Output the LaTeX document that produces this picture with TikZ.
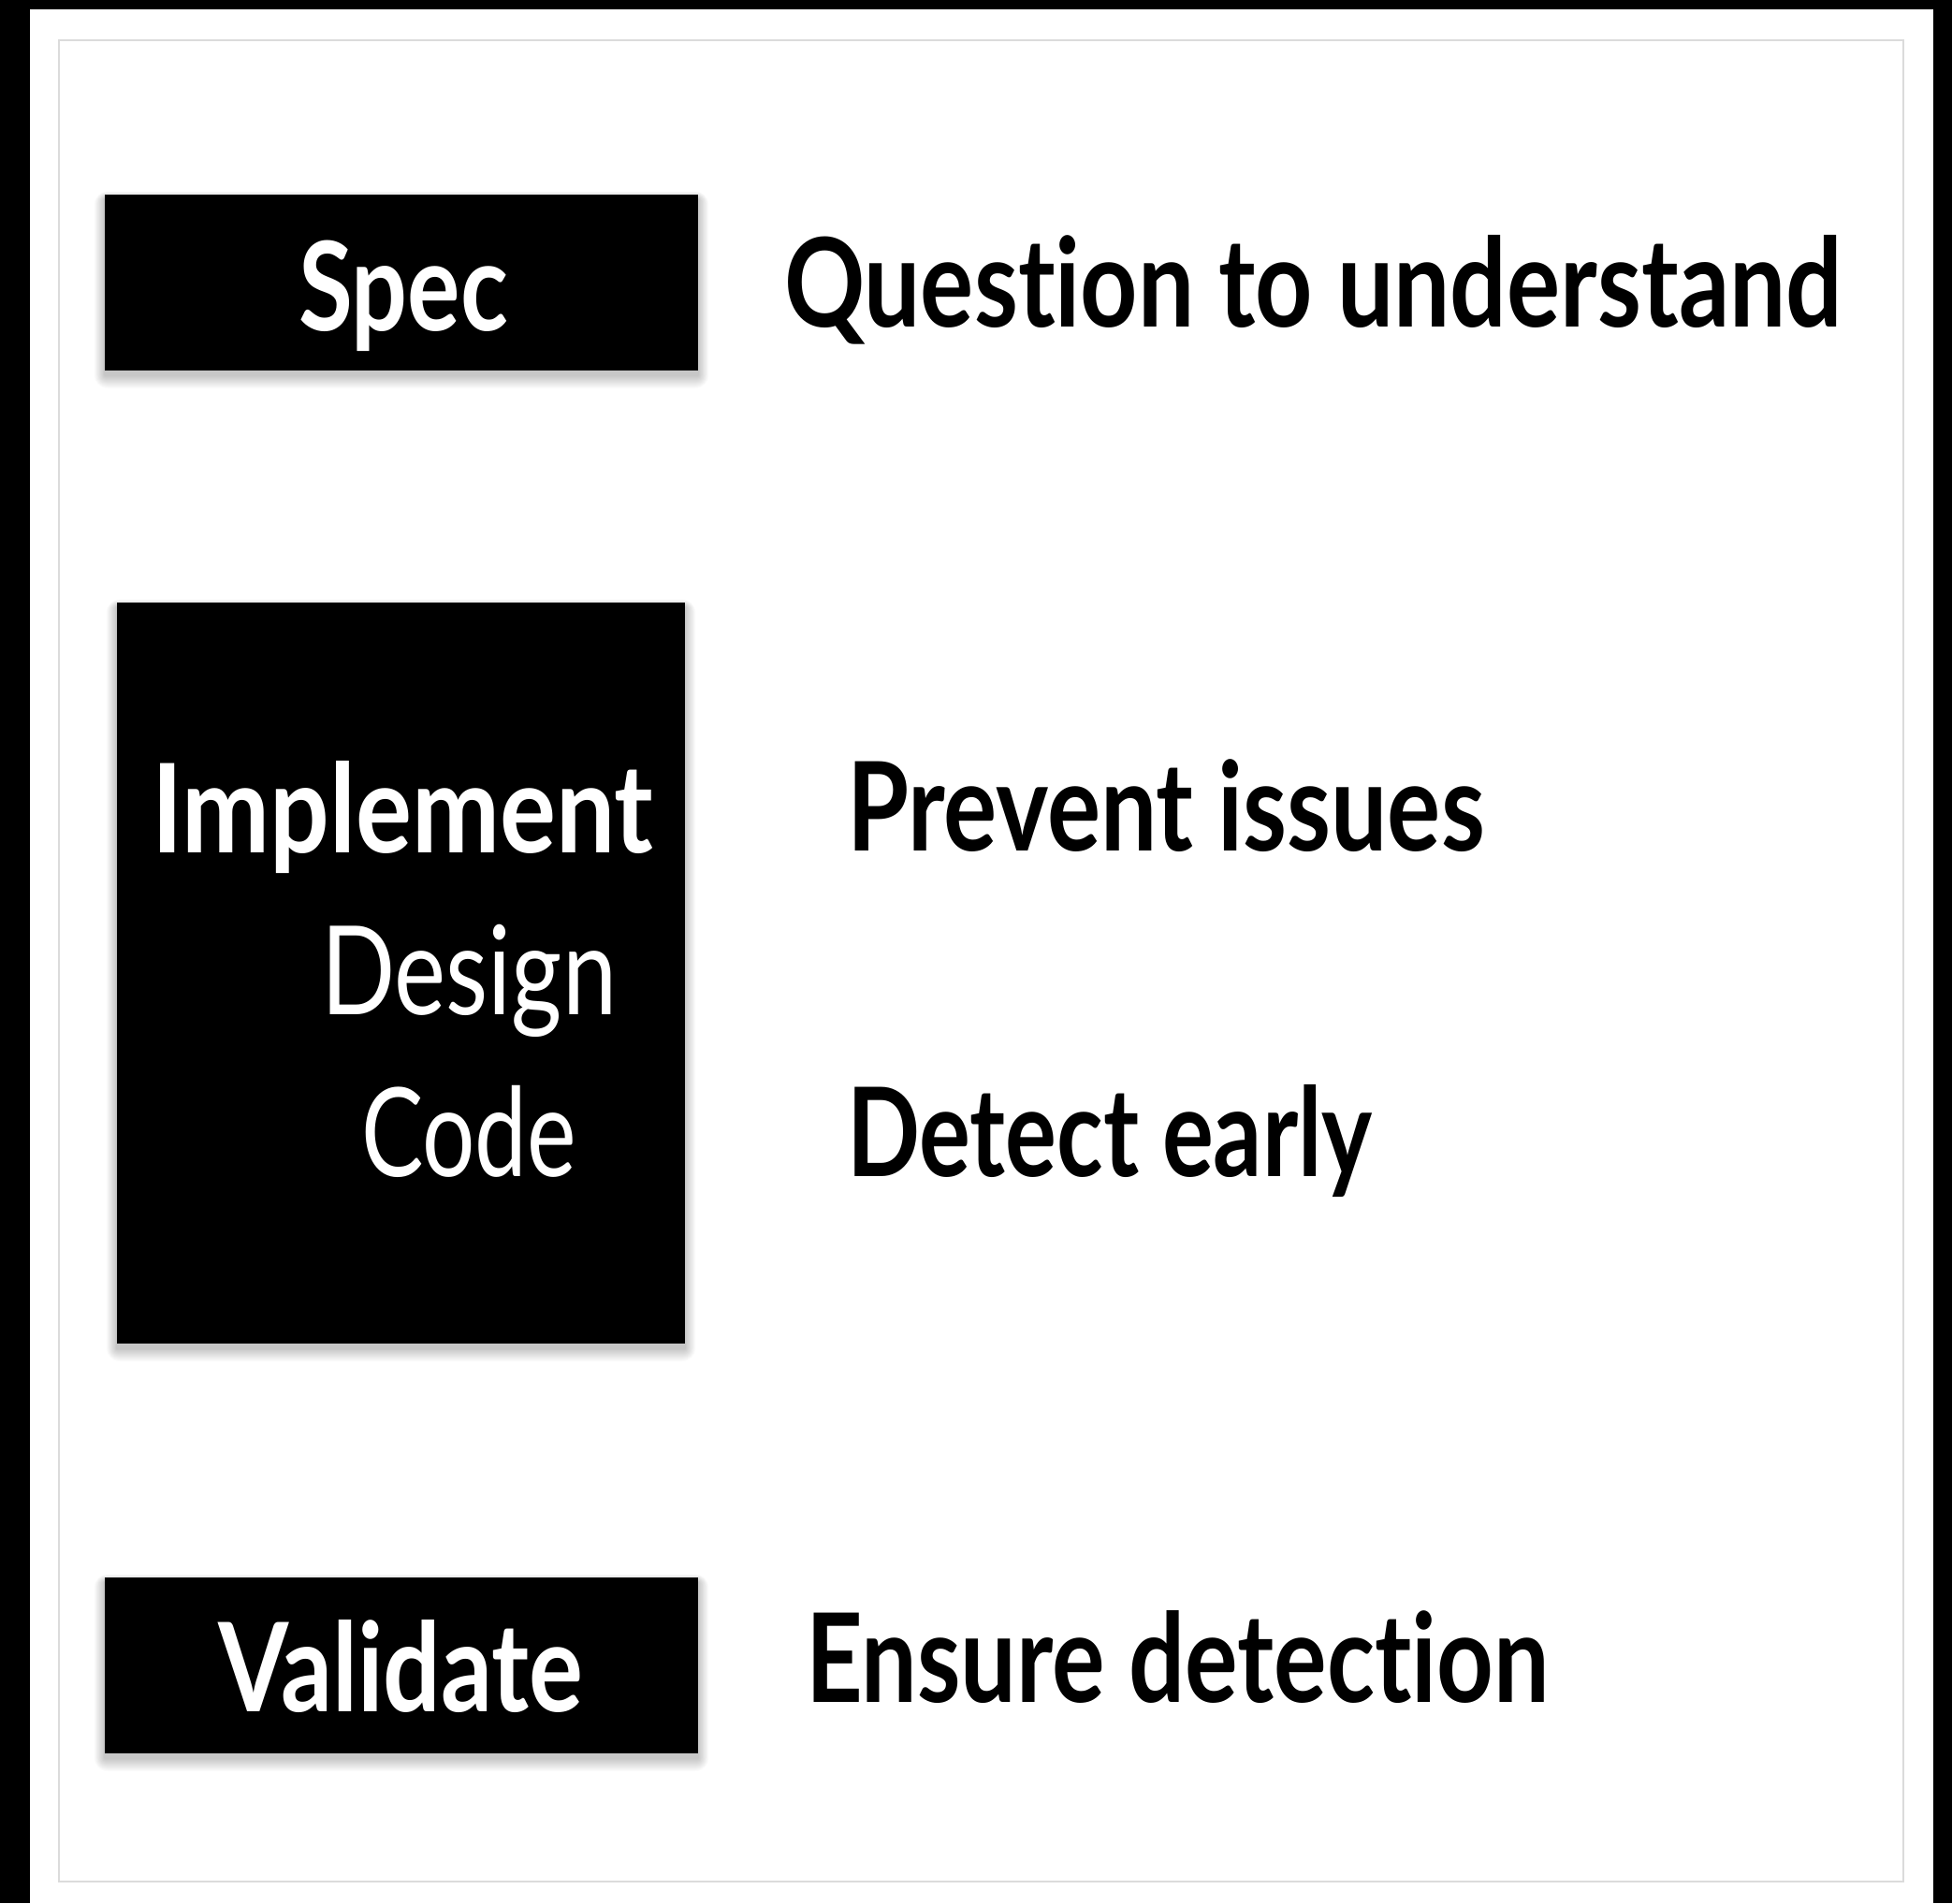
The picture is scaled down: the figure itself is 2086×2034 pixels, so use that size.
\documentclass[tikz,border=0pt]{standalone}
\usepackage{fontspec}
\setmainfont{Lato}[Ligatures={NoCommon,NoRare,NoContextual}]
\usepackage{graphicx}
\usetikzlibrary{calc}

% squeeze a text horizontally to a given width (in pt), keeping its height
\newsavebox\txtbox
\newcommand\fitw[2]{%
  \sbox\txtbox{#2}%
  \pgfmathsetmacro\txtratio{#1/\wd\txtbox}%
  \scalebox{\txtratio}[1]{\usebox\txtbox}}

\tikzset{
  blk/.style={fill=black, draw=none, inner sep=0pt, outer sep=0pt, anchor=north west},
  lbl/.style={inner sep=0pt, outer sep=0pt, anchor=base west, font=\fontsize{66}{70}\selectfont\bfseries},
  wlbl/.style={lbl, text=white},
  wlight/.style={wlbl, font=\fontsize{66}{70}\selectfont},
}

% soft shadow behind a box node, falling a little downwards
\newcommand\softshadow[1]{%
  \foreach \i in {1,...,14}{
    \fill[black, opacity=0.016, rounded corners=\i*0.5pt]
      ($(#1.north west)+(-\i*0.8,-\i*0.6+5)$) rectangle ($(#1.south east)+(\i*0.8,\i+5)$);
  }}

\begin{document}
\begin{tikzpicture}[x=0.5pt, y=-0.5pt]
  % page and frame
  \useasboundingbox (0,0) rectangle (2086,2034);
  \fill[white] (0,0) rectangle (2086,2034);
  \fill[black] (0,0) rectangle (2086,10);
  \fill[black] (0,0) rectangle (32,2034);
  \fill[black] (2066,0) rectangle (2086,2034);
  \draw[black!14, line width=1pt] (63,43) rectangle (2034,2011);

  % boxes: placed once to get their outlines, shadows drawn, then filled on top
  \coordinate (specNW) at (112,208);
  \coordinate (implNW) at (125,644);
  \coordinate (valNW) at (112,1686);
  \node[blk, fill=none, minimum width=317pt, minimum height=94pt] (spec) at (specNW) {};
  \node[blk, fill=none, minimum width=303.5pt, minimum height=396pt] (impl) at (implNW) {};
  \node[blk, fill=none, minimum width=317pt, minimum height=94pt] (val) at (valNW) {};
  \softshadow{spec}
  \softshadow{impl}
  \softshadow{val}
  \fill[black] (spec.north west) rectangle (spec.south east);
  \fill[black] (impl.north west) rectangle (impl.south east);
  \fill[black] (val.north west) rectangle (val.south east);

  % texts in the boxes
  \node[wlbl] (tspec) at (319,353) {\fitw{112}{Spec}};
  \node[wlbl] (timpl) at (162,911) {\fitw{268}{Implement}};
  \node[wlight] (tdes) at (343,1084) {\fitw{158}{Design}};
  \node[wlight] (tcode) at (386,1257) {\fitw{115}{Code}};
  \node[wlbl] (tval) at (233,1829) {\fitw{195}{Validate}};

  % texts beside the boxes
  \node[lbl] (tq) at (838,349) {\fitw{565.5}{Question to understand}};
  \node[lbl] (tp) at (905,909) {\fitw{341}{Prevent issues}};
  \node[lbl] (td) at (905,1257) {\fitw{281}{Detect early}};
  \node[lbl] (te) at (861,1819) {\fitw{397.5}{Ensure detection}};
\end{tikzpicture}
\end{document}
